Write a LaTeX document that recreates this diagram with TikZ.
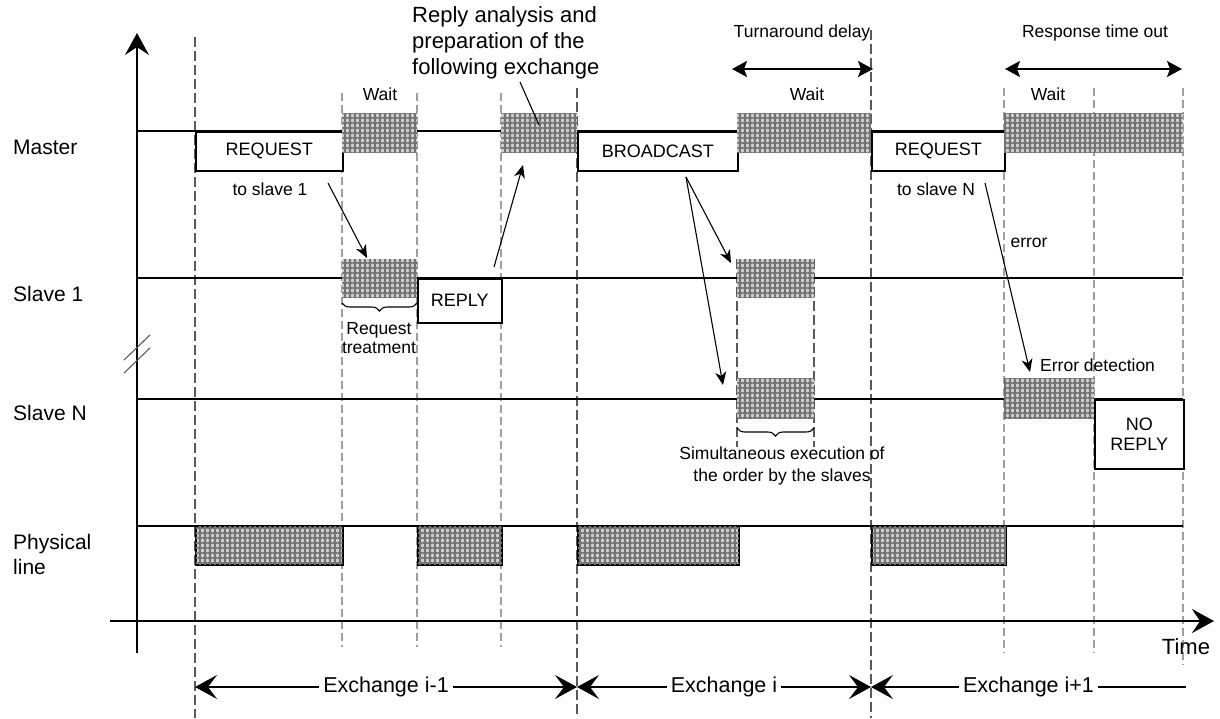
\documentclass[tikz,border=0pt]{standalone}
\usepackage{fontspec}
\setmainfont{Liberation Sans}
\usetikzlibrary{arrows.meta,patterns.meta,decorations.pathreplacing}
\begin{document}
\begin{tikzpicture}[x=1pt,y=-1pt,
  tline/.style={line width=1.4pt},
  hatch/.style={draw=none, inner sep=0, anchor=north west, fill=gray!40,
    postaction={pattern={Lines[angle=0,distance=5pt,line width=1.4pt]},pattern color=black!55},
    postaction={pattern={Lines[angle=90,distance=5pt,line width=1.4pt]},pattern color=black!55}},
  hatchbox/.style={hatch, draw=black, line width=1.5pt},
  msgbox/.style={draw, line width=1.5pt, fill=white, inner sep=0, anchor=north west, align=center,
    font=\fontsize{18}{19.5}\selectfont},
  lab/.style={font=\fontsize{21}{25}\selectfont, anchor=west, align=left, inner sep=0},
  ann/.style={font=\fontsize{17.5}{22}\selectfont, inner sep=0, align=center},
  big/.style={font=\fontsize{22}{26}\selectfont, inner sep=0, align=left, anchor=north west},
  exch/.style={font=\fontsize{21.5}{25}\selectfont, fill=white, inner xsep=4pt, inner ysep=0},
  dlight/.style={gray!75, line width=1.3pt, dash pattern=on 8pt off 4pt},
  ddark/.style={black!65, line width=1.3pt, dash pattern=on 10pt off 4pt},
  sarrow/.style={-{Stealth[length=13pt,width=11pt,inset=4pt]}, line width=1.1pt},
  darrow/.style={{Stealth[length=15pt,width=16pt,inset=3pt]}-{Stealth[length=15pt,width=16pt,inset=3pt]}, line width=1.6pt},
  axarrow/.style={-{Stealth[length=22pt,width=24pt,inset=8pt]}, line width=1.6pt},
  exarrow/.style={line width=1.4pt},
  brc/.style={decorate, decoration={brace, mirror, amplitude=8pt}, line width=1.1pt}
]
\useasboundingbox (0,0) rectangle (1220,718);

% vertical dashed guide lines
\coordinate (v1t) at (195,37);  \coordinate (v1b) at (195,718);
\coordinate (v2t) at (342,93);  \coordinate (v2b) at (342,647);
\coordinate (v3t) at (417,93);  \coordinate (v3b) at (417,647);
\coordinate (v4t) at (501,93);  \coordinate (v4b) at (501,647);
\coordinate (v5t) at (577,88);  \coordinate (v5b) at (577,718);
\coordinate (v6t) at (737,259); \coordinate (v6b) at (737,447);
\coordinate (v7t) at (814,259); \coordinate (v7b) at (814,447);
\coordinate (v8t) at (871,30);  \coordinate (v8b) at (871,718);
\coordinate (v9t) at (1004,88); \coordinate (v9b) at (1004,653);
\coordinate (v10t) at (1094,88); \coordinate (v10b) at (1094,653);
\coordinate (v11t) at (1183,88); \coordinate (v11b) at (1183,665);
\draw[ddark] (v1t) -- (v1b);
\draw[dlight] (v2t) -- (v2b);
\draw[dlight] (v3t) -- (v3b);
\draw[dlight] (v4t) -- (v4b);
\draw[ddark] (v5t) -- (v5b);
\draw[ddark] (v6t) -- (v6b);
\draw[ddark] (v7t) -- (v7b);
\draw[ddark] (v8t) -- (v8b);
\draw[dlight] (v9t) -- (v9b);
\draw[dlight] (v10t) -- (v10b);
\draw[dlight] (v11t) -- (v11b);

% axes
\coordinate (yb) at (137,653); \coordinate (yt) at (137,33);
\coordinate (tl) at (110,621); \coordinate (tr) at (1214,621);
\draw[axarrow] (yb) -- (yt);
\draw[axarrow] (tl) -- (tr);
\coordinate (bk1a) at (124,360); \coordinate (bk1b) at (150,335);
\coordinate (bk2a) at (124,373); \coordinate (bk2b) at (150,348);
\draw[gray!70!black, line width=1.1pt] (bk1a) -- (bk1b);
\draw[gray!70!black, line width=1.1pt] (bk2a) -- (bk2b);

% timelines
\coordinate (mL) at (137,131); \coordinate (mR) at (1183,131);
\coordinate (s1L) at (137,278); \coordinate (s1R) at (1183,278);
\coordinate (snL) at (137,399); \coordinate (snR) at (1183,399);
\coordinate (pL) at (137,526); \coordinate (pR) at (1183,526);
\draw[tline] (mL) -- (mR);
\draw[tline] (s1L) -- (s1R);
\draw[tline] (snL) -- (snR);
\draw[tline] (pL) -- (pR);

% row labels
\node[lab] (master) at (13,147) {Master};
\node[lab] (slave1) at (13,294) {Slave 1};
\node[lab] (slaveN) at (13,413) {Slave N};
\node[lab] (phys) at (13,554) {Physical\\line};

% master row
\node[msgbox, minimum width=147pt, minimum height=39pt] (req1) at (195,131) {REQUEST};
\node[hatch, minimum width=75pt, minimum height=39pt] (mw1) at (342,113) {};
\node[hatch, minimum width=76pt, minimum height=39pt] (mw2) at (501,113) {};
\node[msgbox, minimum width=160pt, minimum height=39pt] (bcast) at (577,131) {BROADCAST};
\node[hatch, minimum width=134pt, minimum height=39pt] (mw3) at (737,113) {};
\node[msgbox, minimum width=133pt, minimum height=39pt] (req2) at (871,131) {REQUEST};
\node[hatch, minimum width=179pt, minimum height=39pt] (mw4) at (1004,113) {};

% slave 1 row
\node[hatch, minimum width=75pt, minimum height=38pt] (s1w1) at (342,259) {};
\node[msgbox, minimum width=84pt, minimum height=44pt] (reply) at (417,278) {REPLY};
\node[hatch, minimum width=77pt, minimum height=38pt] (s1w2) at (737,259) {};

% slave N row
\node[hatch, minimum width=77pt, minimum height=40pt] (snw1) at (737,378) {};
\node[hatch, minimum width=90pt, minimum height=40pt] (snw2) at (1004,378) {};
\node[msgbox, minimum width=89pt, minimum height=69pt] (norep) at (1094,399) {NO\\REPLY};

% physical line row
\node[hatchbox, minimum width=147pt, minimum height=38pt] (p1) at (195,526) {};
\node[hatchbox, minimum width=84pt, minimum height=38pt] (p2) at (417,526) {};
\node[hatchbox, minimum width=161pt, minimum height=38pt] (p3) at (577,526) {};
\node[hatchbox, minimum width=134pt, minimum height=38pt] (p4) at (871,526) {};

% braces
\coordinate (b1a) at (342,303); \coordinate (b1b) at (417,303);
\draw[brc] (b1a) -- (b1b);
\coordinate (b2a) at (737,428); \coordinate (b2b) at (814,428);
\draw[brc] (b2a) -- (b2b);

% annotations
\node[ann] (w1) at (380,94) {Wait};
\node[ann] (w2) at (807,94) {Wait};
\node[ann] (w3) at (1048,94) {Wait};
\node[ann] (ts1) at (270,189) {to slave 1};
\node[ann] (tsn) at (936,189) {to slave N};
\node[ann] (rt) at (379,338) {Request\\[-3pt]treatment};
\node[ann] (simul) at (782,466) {Simultaneous execution of\\the order by the slaves};
\node[ann] (err) at (1029,243) {error};
\node[ann, anchor=west] (errdet) at (1040,365) {Error detection};
\node[ann] (turn) at (802,33) {Turnaround delay};
\node[ann] (resp) at (1095,33) {Response time out};
\node[big] (reply-an) at (412,6) {Reply analysis and\\preparation of the\\following exchange};
\node[font=\fontsize{22}{26}\selectfont, inner sep=0] (time) at (1186,647) {Time};

% interval arrows
\coordinate (ta) at (732,69); \coordinate (tb) at (873,69);
\draw[darrow] (ta) -- (tb);
\coordinate (ra) at (1005,69); \coordinate (rb) at (1182,69);
\draw[darrow] (ra) -- (rb);

% causal arrows
\coordinate (a1s) at (328,183); \coordinate (a1e) at (367,258);
\draw[sarrow] (a1s) -- (a1e);
\coordinate (a2s) at (494,267); \coordinate (a2e) at (523,165);
\draw[sarrow] (a2s) -- (a2e);
\coordinate (a3s) at (520,82); \coordinate (a3e) at (539,125);
\draw[line width=1.1pt] (a3s) -- (a3e);
\coordinate (a4s) at (686,177); \coordinate (a4e) at (731,263); \coordinate (a5e) at (723,385);
\draw[sarrow] (a4s) -- (a4e);
\draw[sarrow] (a4s) -- (a5e);
\coordinate (a6s) at (985,183); \coordinate (a6e) at (1030,372);
\draw[sarrow] (a6s) -- (a6e);

% exchanges
\coordinate (e1) at (195,687); \coordinate (e2) at (577,687);
\coordinate (e3) at (871,687); \coordinate (e4) at (1186,687);
\draw[exarrow, {Stealth[length=22pt,width=24pt,inset=9pt]}-{Stealth[length=22pt,width=24pt,inset=9pt]}] (e1) -- node[exch] (ex1) {Exchange i-1} (e2);
\draw[exarrow, {Stealth[length=22pt,width=24pt,inset=9pt]}-{Stealth[length=22pt,width=24pt,inset=9pt]}] (e2) -- node[exch] (ex2) {Exchange i} (e3);
\draw[exarrow, {Stealth[length=22pt,width=24pt,inset=9pt]}-] (e3) -- node[exch] (ex3) {Exchange i+1} (e4);
\end{tikzpicture}
\end{document}
